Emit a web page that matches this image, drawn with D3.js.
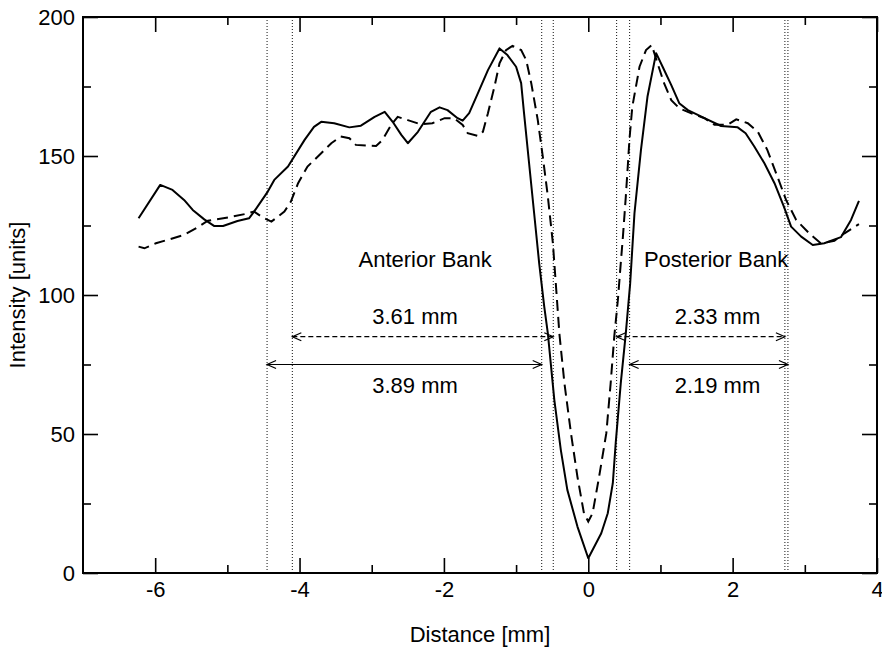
<!DOCTYPE html>
<html lang="en">
<head>
    <meta charset="UTF-8">
    <title>Intensity profile</title>
    <script src="https://cdn.jsdelivr.net/npm/d3@7/dist/d3.min.js"></script>
    <style>
        body { margin: 0; background: #fff; }
        text { font-family: "Liberation Sans", Arial, Helvetica, sans-serif; }
    </style>
</head>
<body>
    <svg width="882" height="648" id="mainsvg"></svg>
    <script>
        // solid profile
        const solidX = [-6.23, -5.93, -5.76, -5.60, -5.48, -5.32, -5.18, -5.06, -4.86, -4.70, -4.63, -4.44, -4.35, -4.16, -3.93, -3.80,
            -3.70, -3.52, -3.31, -3.15, -2.96, -2.82, -2.71, -2.59, -2.50, -2.36, -2.18, -2.06, -1.95, -1.81, -1.74, -1.65,
            -1.53, -1.39, -1.23, -1.12, -1.00, -0.93, -0.89, -0.82, -0.75, -0.68, -0.61, -0.56, -0.47, -0.38, -0.29, -0.15,
            0.00, 0.18, 0.27, 0.34, 0.38, 0.45, 0.52, 0.58, 0.64, 0.73, 0.82, 0.94, 1.03, 1.15, 1.26, 1.38, 1.61, 1.84,
            2.07, 2.18, 2.30, 2.44, 2.58, 2.71, 2.81, 2.95, 3.11, 3.27, 3.50, 3.64, 3.75]
        const solidY = [127.6, 139.6, 137.8, 134.2, 130.6, 127.2, 124.8, 124.8, 126.6, 127.6, 130.0, 137.2, 141.4, 146.2, 155.8, 160.5,
            162.3, 161.8, 160.3, 160.9, 164.1, 165.9, 162.3, 157.6, 154.6, 158.7, 165.9, 167.5, 166.5, 163.6, 162.7, 165.4,
            172.5, 180.9, 188.7, 186.3, 182.1, 176.2, 165.4, 147.4, 129.4, 111.4, 95.8, 86.2, 62.2, 44.2, 29.9, 16.7,
            5.3, 14.3, 21.5, 32.3, 46.7, 68.2, 86.2, 104.0, 129.4, 152.2, 171.3, 187.0, 182.1, 175.5, 169.0, 166.5, 163.6, 160.8,
            160.3, 158.2, 153.4, 147.4, 140.2, 131.8, 124.6, 121.0, 118.0, 118.6, 120.8, 127.0, 133.9]

        // dashed profile
        const dashX = [-6.23, -6.15, -5.99, -5.60, -5.41, -5.27, -4.99, -4.76, -4.63, -4.51, -4.39, -4.21, -4.12, -4.02, -3.89, -3.70,
            -3.56, -3.43, -3.31, -3.22, -2.94, -2.85, -2.73, -2.64, -2.50, -2.32, -2.16, -1.99, -1.86, -1.74, -1.67, -1.53,
            -1.46, -1.39, -1.30, -1.23, -1.14, -1.05, -0.93, -0.86, -0.79, -0.70, -0.63, -0.56, -0.49, -0.45, -0.40, -0.33,
            -0.24, -0.15, -0.06, 0.00, 0.06, 0.15, 0.25, 0.31, 0.36, 0.41, 0.45, 0.48, 0.52, 0.55, 0.57, 0.61, 0.71, 0.80,
            0.88, 0.96, 1.05, 1.15, 1.26, 1.42, 1.61, 1.75, 1.93, 2.05, 2.21, 2.35, 2.48, 2.62, 2.74, 2.88, 3.06, 3.22,
            3.41, 3.55, 3.75]
        const dashY = [117.4, 116.8, 118.6, 121.6, 124.4, 126.7, 127.9, 129.1, 130.0, 127.9, 126.4, 130.0, 133.6, 140.2, 146.2, 151.0,
            154.6, 157.0, 156.4, 154.0, 153.6, 155.8, 161.2, 164.1, 162.9, 161.4, 161.8, 163.6, 163.6, 161.2, 158.2, 157.2,
            158.7, 165.4, 174.9, 183.3, 188.1, 189.6, 188.1, 184.5, 176.2, 163.0, 149.8, 135.4, 118.6, 104.2, 86.0, 68.2,
            50.3, 34.6, 21.5, 18.5, 21.5, 34.6, 50.3, 68.2, 85.0, 98.2, 111.4, 121.0, 135.4, 147.4, 155.8, 167.7, 182.1, 188.1,
            189.9, 183.3, 176.2, 170.1, 167.2, 165.4, 163.6, 161.2, 161.2, 163.2, 161.8, 158.7, 152.2, 142.6, 134.2, 127.0, 122.2, 118.6,
            119.5, 122.2, 125.5]

        // bank edges (dotted lines)
        const edgesX = [-4.45, -4.10, -0.645, -0.485, 0.393, 0.573, 2.724, 2.766]

        // width arrows: [from, to, level]
        const dashArrows = [[-4.10, -0.485, 85], [0.393, 2.724, 85]]
        const solidArrows = [[-4.45, -0.645, 75], [0.573, 2.766, 75]]

        // annotation labels
        const labelText = ['Anterior Bank', '3.61 mm', '3.89 mm', 'Posterior Bank', '2.33 mm', '2.19 mm']
        const labelX = [-2.26, -2.40, -2.40, 1.77, 1.79, 1.79]
        const labelY = [110, 89.6, 64.9, 110, 89.6, 64.9]

        const xMajor = [-6, -4, -2, 0, 2, 4]
        const xMinor = [-5, -3, -1, 1, 3]
        const yMajor = [0, 50, 100, 150, 200]
        const yMinor = [25, 75, 125, 175]

        const svg = d3.select('#mainsvg')
        const margin = {top: 17, right: 5, bottom: 75, left: 83}
        const width = +svg.attr('width')
        const height = +svg.attr('height')
        const innerWidth = width - margin.left - margin.right
        const innerHeight = height - margin.top - margin.bottom
        const fs = 22

        const x = d3.scaleLinear().domain([-7, 4]).range([0, innerWidth])
        const y = d3.scaleLinear().domain([0, 200]).range([innerHeight, 0])

        const g = svg.append('g')
            .attr('transform', `translate(${margin.left},${margin.top})`)

        // dotted edge markers
        g.selectAll('.edge').data(edgesX).join('line')
            .attr('class', 'edge')
            .attr('x1', d => x(d)).attr('x2', d => x(d))
            .attr('y1', 0).attr('y2', innerHeight)
            .attr('stroke', '#111').attr('stroke-width', 1)
            .attr('stroke-dasharray', '1,2')

        // axes, ticks pointing inward
        const plain = d => String(d)
        const styleAxis = sel => {
            sel.select('.domain').remove()
            sel.selectAll('.tick line').attr('stroke', '#000').attr('stroke-width', 1.6)
            sel.selectAll('.tick text').attr('font-size', fs).attr('fill', '#000')
                .attr('font-family', '"Liberation Sans", Arial, sans-serif')
        }
        g.append('g').attr('transform', `translate(0,${innerHeight})`)
            .call(d3.axisBottom(x).tickValues(xMajor).tickSize(-15).tickPadding(8).tickFormat(plain))
            .call(styleAxis)
        g.append('g').attr('transform', `translate(0,${innerHeight})`)
            .call(d3.axisBottom(x).tickValues(xMinor).tickSize(-8).tickFormat(''))
            .call(styleAxis)
        g.append('g')
            .call(d3.axisTop(x).tickValues(xMajor).tickSize(-15).tickFormat(''))
            .call(styleAxis)
        g.append('g')
            .call(d3.axisTop(x).tickValues(xMinor).tickSize(-8).tickFormat(''))
            .call(styleAxis)
        g.append('g')
            .call(d3.axisLeft(y).tickValues(yMajor).tickSize(-15).tickPadding(8).tickFormat(plain))
            .call(styleAxis)
        g.append('g')
            .call(d3.axisLeft(y).tickValues(yMinor).tickSize(-8).tickFormat(''))
            .call(styleAxis)
        g.append('g').attr('transform', `translate(${innerWidth},0)`)
            .call(d3.axisRight(y).tickValues(yMajor).tickSize(-15).tickFormat(''))
            .call(styleAxis)
        g.append('g').attr('transform', `translate(${innerWidth},0)`)
            .call(d3.axisRight(y).tickValues(yMinor).tickSize(-8).tickFormat(''))
            .call(styleAxis)

        g.append('rect')
            .attr('width', innerWidth).attr('height', innerHeight)
            .attr('fill', 'none').attr('stroke', '#000').attr('stroke-width', 2)

        // profiles
        const line = d3.line().x(d => x(d[0])).y(d => y(d[1]))
        g.append('path')
            .attr('d', line(d3.zip(solidX, solidY)))
            .attr('fill', 'none').attr('stroke', '#000').attr('stroke-width', 2)
            .attr('stroke-linejoin', 'round')
        g.append('path')
            .attr('d', line(d3.zip(dashX, dashY)))
            .attr('fill', 'none').attr('stroke', '#000').attr('stroke-width', 2)
            .attr('stroke-dasharray', '11,6')

        // arrows
        const defs = svg.append('defs')
        defs.append('marker')
            .attr('id', 'head')
            .attr('viewBox', '-10 -6 12 12')
            .attr('refX', 0).attr('refY', 0)
            .attr('markerWidth', 12).attr('markerHeight', 12)
            .attr('markerUnits', 'userSpaceOnUse')
            .attr('orient', 'auto-start-reverse')
            .append('path')
            .attr('d', 'M-9,-4L0,0L-9,4')
            .attr('fill', 'none').attr('stroke', '#000').attr('stroke-width', 1.2)

        const drawArrows = (data, dash) => {
            g.selectAll(null).data(data).join('line')
                .attr('x1', d => x(d[0])).attr('x2', d => x(d[1]))
                .attr('y1', d => y(d[2])).attr('y2', d => y(d[2]))
                .attr('stroke', '#000').attr('stroke-width', 1.2)
                .attr('stroke-dasharray', dash)
                .attr('marker-start', 'url(#head)')
                .attr('marker-end', 'url(#head)')
        }
        drawArrows(dashArrows, '5,3')
        drawArrows(solidArrows, null)

        g.selectAll('.label').data(labelText).join('text')
            .attr('class', 'label')
            .attr('x', (d, i) => x(labelX[i]))
            .attr('y', (d, i) => y(labelY[i]))
            .attr('text-anchor', 'middle')
            .attr('font-size', fs)
            .text(d => d)

        // axis titles
        svg.append('text')
            .attr('x', margin.left + innerWidth / 2).attr('y', 642)
            .attr('text-anchor', 'middle').attr('font-size', fs)
            .text('Distance [mm]')
        svg.append('text')
            .attr('transform', `translate(25,${margin.top + innerHeight / 2}) rotate(-90)`)
            .attr('text-anchor', 'middle').attr('font-size', fs)
            .text('Intensity [units]')
    </script>
</body>
</html>
